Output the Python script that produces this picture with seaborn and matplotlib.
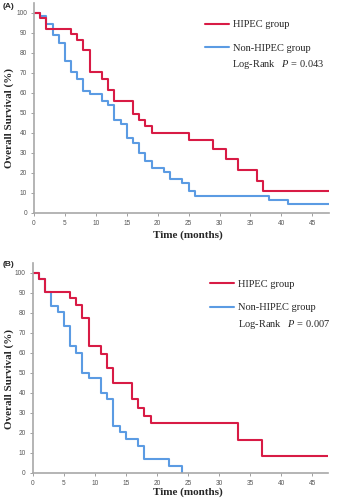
import numpy as np
import pandas as pd
import matplotlib
matplotlib.use("Agg")
import matplotlib.pyplot as plt
from matplotlib.lines import Line2D
import seaborn as sns

# Kaplan-Meier step data (months, overall survival %)
a_hipec_t = [0, 1, 2, 6, 7, 8, 9, 11, 12, 13, 16, 17, 18, 19, 25, 29, 31, 33, 36, 37, 47.7]
a_hipec_s = [100, 97.5, 91.8, 89.7, 86.7, 81.3, 70.3, 67.0, 61.3, 55.7, 49.3, 46.3, 43.3, 40.0,
             36.3, 31.7, 26.7, 21.3, 16.0, 11.0, 11.0]
a_non_t = [0, 1, 2, 3, 4, 5, 6, 7, 8, 9, 11, 12, 13, 14, 15, 16, 17, 18, 19, 21, 22, 24, 25, 26,
           38, 41, 47.7]
a_non_s = [100, 98.3, 94.3, 89.2, 85.0, 75.8, 70.5, 66.7, 61.0, 59.3, 55.7, 53.7, 46.5, 44.5,
           37.2, 35.0, 29.7, 26.0, 22.2, 20.5, 16.7, 15.0, 11.0, 8.5, 6.3, 4.3, 4.3]

b_hipec_t = [0, 1, 2, 6, 7, 8, 9, 11, 12, 13, 16, 17, 18, 19, 33, 37, 47.6]
b_hipec_s = [100, 96.7, 90.2, 87.2, 83.8, 77.2, 63.3, 59.3, 52.2, 44.7, 36.7, 32.5, 28.5, 24.7,
             16.3, 8.3, 8.3]
b_non_t = [0, 1, 2, 3, 4, 5, 6, 7, 8, 9, 11, 12, 13, 14, 15, 17, 18, 22, 24]
b_non_s = [100, 96.7, 90.2, 83.3, 80.2, 73.3, 63.3, 60.0, 50.0, 47.2, 40.0, 36.7, 23.5, 20.5,
           16.8, 13.5, 6.8, 3.5, 0.0]

groups = ["HIPEC group", "Non-HIPEC group"]
p_values = ["0.043", "0.007"]
panel_labels = ["(A)", "(B)"]
x_ticks = list(range(0, 50, 5))
y_ticks = list(range(0, 101, 10))

RED = "#d81b45"
BLUE = "#5b9be3"
palette = {"HIPEC group": RED, "Non-HIPEC group": BLUE}

sns.set_style("ticks")
plt.rcParams["font.family"] = ["Liberation Serif", "DejaVu Serif"]
plt.rcParams["mathtext.fontset"] = "custom"
plt.rcParams["mathtext.it"] = "Liberation Serif:italic"
plt.rcParams["mathtext.rm"] = "Liberation Serif"


def frame(ht, hs, nt, ns):
    return pd.concat([
        pd.DataFrame({"Time": ht, "Survival": hs, "Group": groups[0]}),
        pd.DataFrame({"Time": nt, "Survival": ns, "Group": groups[1]}),
    ], ignore_index=True)


panels = [
    dict(df=frame(a_hipec_t, a_hipec_s, a_non_t, a_non_s), xmax=47.7,
         rect=[34 / 337, 1 - 212.7 / 500, 295 / 337, 209.7 / 500],
         leg=(0.58, 0.841), lr=(0.671, 0.709), xl=(0.521, -0.106), yl=(-0.085, 0.452),
         tag_y=1 - 7 / 500),
    dict(df=frame(b_hipec_t, b_hipec_s, b_non_t, b_non_s), xmax=47.6,
         rect=[32.7 / 337, 1 - 472.7 / 500, 295.6 / 337, 210 / 500],
         leg=(0.60, 0.842), lr=(0.694, 0.708), xl=(0.524, -0.0905), yl=(-0.080, 0.446),
         tag_y=1 - 264 / 500),
]

fig = plt.figure(figsize=(3.37, 5.0), dpi=100)

for i, p in enumerate(panels):
    ax = fig.add_axes(p["rect"])
    sns.lineplot(data=p["df"], x="Time", y="Survival", hue="Group",
                 hue_order=[groups[1], groups[0]], palette=palette,
                 estimator=None, sort=True, drawstyle="steps-post",
                 linewidth=1.5, legend=False, ax=ax)
    ax.set_xlim(0, p["xmax"])
    ax.set_ylim(0, 105)
    ax.set_xticks(x_ticks)
    ax.set_yticks(y_ticks)
    for lab in ax.get_xticklabels() + ax.get_yticklabels():
        lab.set_fontfamily("Liberation Sans")
    ax.tick_params(axis="both", length=2.5, width=0.7, color="#a0a0a0",
                   labelsize=4.7, labelcolor="#555555", pad=2.5)
    for side in ["top", "right"]:
        ax.spines[side].set_visible(False)
    for side in ["left", "bottom"]:
        ax.spines[side].set_color("#a8a8a8")
        ax.spines[side].set_linewidth(1.2)

    ax.set_xlabel("Time (months)", fontsize=8, fontweight="bold")
    ax.set_ylabel("Overall Survival (%)", fontsize=8, fontweight="bold")
    ax.xaxis.set_label_coords(*p["xl"])
    ax.xaxis.label.set_verticalalignment("center")
    ax.yaxis.set_label_coords(*p["yl"])
    ax.yaxis.label.set_verticalalignment("center")

    handles = [Line2D([], [], color=RED, lw=1.5), Line2D([], [], color=BLUE, lw=1.5)]
    ax.legend(handles, groups, loc="center left", bbox_to_anchor=p["leg"],
              frameon=False, fontsize=7.5, handlelength=2.3, handletextpad=0.4,
              labelspacing=1.35, borderpad=0, borderaxespad=0)
    ax.text(p["lr"][0], p["lr"][1], "Log-Rank   $P$ = " + p_values[i],
            transform=ax.transAxes, fontsize=7.5, ha="left", va="center")

    fig.text(3 / 337, p["tag_y"], panel_labels[i], fontsize=6, fontweight="bold",
             family="Liberation Sans", ha="left", va="center")

fig.savefig("out.png", dpi=100)
